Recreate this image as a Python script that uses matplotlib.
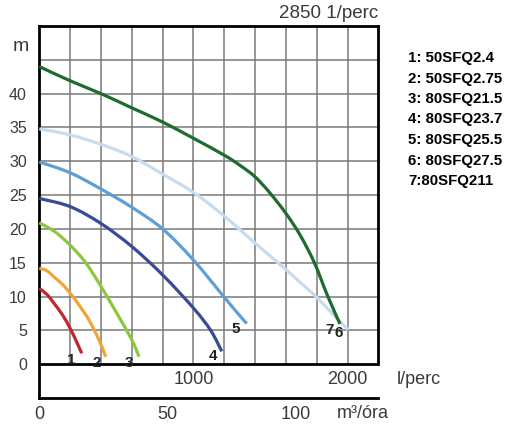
import matplotlib
matplotlib.use('Agg')
from matplotlib import pyplot as plt
from matplotlib.path import Path
from matplotlib.patches import PathPatch

# flow in l/perc, head in m
q1 = [0, 50, 95, 150, 200, 240, 275]
h1 = [11.2, 10.3, 9.0, 7.3, 5.3, 3.4, 1.6]
q2 = [0, 50, 95, 150, 200, 250, 323, 387, 431]
h2 = [14.2, 13.8, 12.9, 11.8, 10.5, 9.0, 6.5, 3.6, 1.1]
q3 = [0, 100, 200, 301, 400, 496, 600, 647]
h3 = [20.9, 19.6, 17.6, 15.0, 11.5, 7.8, 3.6, 1.1]
q4 = [0, 200, 400, 600, 800, 1000, 1112, 1184]
h4 = [24.5, 23.3, 20.8, 17.4, 13.2, 8.3, 5.0, 1.9]
q5 = [0, 200, 400, 600, 800, 1000, 1200, 1296, 1346]
h5 = [29.9, 28.3, 25.9, 23.2, 20.0, 15.4, 9.9, 7.3, 6.0]
q6 = [0, 200, 400, 600, 800, 1000, 1200, 1400, 1600, 1692, 1800, 1908, 2005]
h6 = [34.8, 33.9, 32.5, 30.7, 28.1, 25.4, 21.9, 17.9, 14.0, 12.1, 9.9, 7.3, 5.1]
q7 = [0, 200, 400, 600, 800, 1000, 1200, 1302, 1400, 1497, 1600, 1692, 1785, 1869, 1951]
h7 = [44.0, 41.9, 40.0, 37.9, 35.8, 33.4, 30.9, 29.4, 27.7, 25.3, 22.3, 19.1, 15.0, 10.2, 5.95]

curves = [(q1, h1), (q2, h2), (q3, h3), (q4, h4), (q5, h5), (q6, h6), (q7, h7)]
colors = ['#c1272d', '#f0a53a', '#8dc63f', '#3b4a94', '#5f9fd3', '#c8dcee', '#1f6a2f']

curve_nums = ['1', '2', '3', '4', '5', '6', '7']
num_x = [210, 372, 584, 1129, 1276, 1940, 1886]
num_y = [0.6, 0.2, 0.2, 1.2, 5.2, 4.6, 5.1]

legend_lines = ['1: 50SFQ2.4', '2: 50SFQ2.75', '3: 80SFQ21.5', '4: 80SFQ23.7',
                '5: 80SFQ25.5', '6: 80SFQ27.5', '7:80SFQ211']

y_ticks = [0, 5, 10, 15, 20, 25, 30, 35, 40]
lpm_labels = [1000, 2000]
m3h_labels = [0, 50, 100]

txt = '#3a3a3a'
font = 'Liberation Sans'


def smooth_path(xs, ys):
    # catmull-rom through the read points, drawn as cubic bezier segments
    pts = list(zip(xs, ys))
    verts = [pts[0]]
    codes = [Path.MOVETO]
    n = len(pts)
    for i in range(n - 1):
        p0 = pts[max(i - 1, 0)]
        p1 = pts[i]
        p2 = pts[i + 1]
        p3 = pts[min(i + 2, n - 1)]
        c1 = (p1[0] + (p2[0] - p0[0]) / 6, p1[1] + (p2[1] - p0[1]) / 6)
        c2 = (p2[0] - (p3[0] - p1[0]) / 6, p2[1] - (p3[1] - p1[1]) / 6)
        verts += [c1, c2, p2]
        codes += [Path.CURVE4] * 3
    return Path(verts, codes)


fig = plt.figure(figsize=(5.16, 4.29), dpi=100)
ax = fig.add_axes([0.0762, 0.0723, 0.657, 0.8671])
ax.set_xlim(0, 2200)
ax.set_ylim(-5, 50)

# grid inside the upper part only
ax.vlines(range(200, 2200, 200), 0, 50, color='#7a7a7a', lw=1.1, zorder=1)
ax.hlines(range(5, 50, 5), 0, 2200, color='#7a7a7a', lw=1.1, zorder=1)
ax.axhline(0, color='black', lw=2, zorder=2)

for (q, h), c in zip(curves, colors):
    ax.add_patch(PathPatch(smooth_path(q, h), fill=False, edgecolor=c, lw=2.3,
                           capstyle='butt', zorder=3))

for n, x, y in zip(curve_nums, num_x, num_y):
    ax.text(x, y, n, ha='center', va='center', fontsize=11, fontweight='bold',
            color='#222222', family=font, zorder=4)

for s in ['left', 'top', 'right', 'bottom']:
    ax.spines[s].set_linewidth(2)
ax.spines['right'].set_bounds(0, 50)

ax.set_yticks(y_ticks)
ax.set_yticklabels([str(v) for v in y_ticks], fontsize=11.5, color=txt, family=font)
ax.tick_params(axis='y', length=0, pad=9)

ax.set_xticks([v * 1000 / 60 for v in m3h_labels])
ax.set_xticklabels([str(v) for v in m3h_labels], fontsize=13, color=txt, family=font)
ax.tick_params(axis='x', length=0, pad=6)

for v in lpm_labels:
    ax.text(v, -2.2, str(v), ha='center', va='center', fontsize=13, color=txt, family=font)
ax.text(2320, -2.2, 'l/perc', ha='left', va='center', fontsize=13, color=txt,
        family=font, clip_on=False)
ax.text(1930, -7.35, 'm³/óra', ha='left', va='center', fontsize=13, color=txt,
        family=font, clip_on=False)
ax.text(-120, 46.9, 'm', ha='center', va='center', fontsize=14, color=txt,
        family=font, clip_on=False)
ax.text(2200, 51.9, '2850 1/perc', ha='right', va='center', fontsize=13.5, color=txt,
        family=font, clip_on=False)

for i, s in enumerate(legend_lines):
    fig.text(408 / 516, 1 - (58 + i * 20.5) / 429, s, ha='left', va='center',
             fontsize=10.8, fontweight='bold', color='black', family=font)

fig.savefig('out.png', dpi=100)
